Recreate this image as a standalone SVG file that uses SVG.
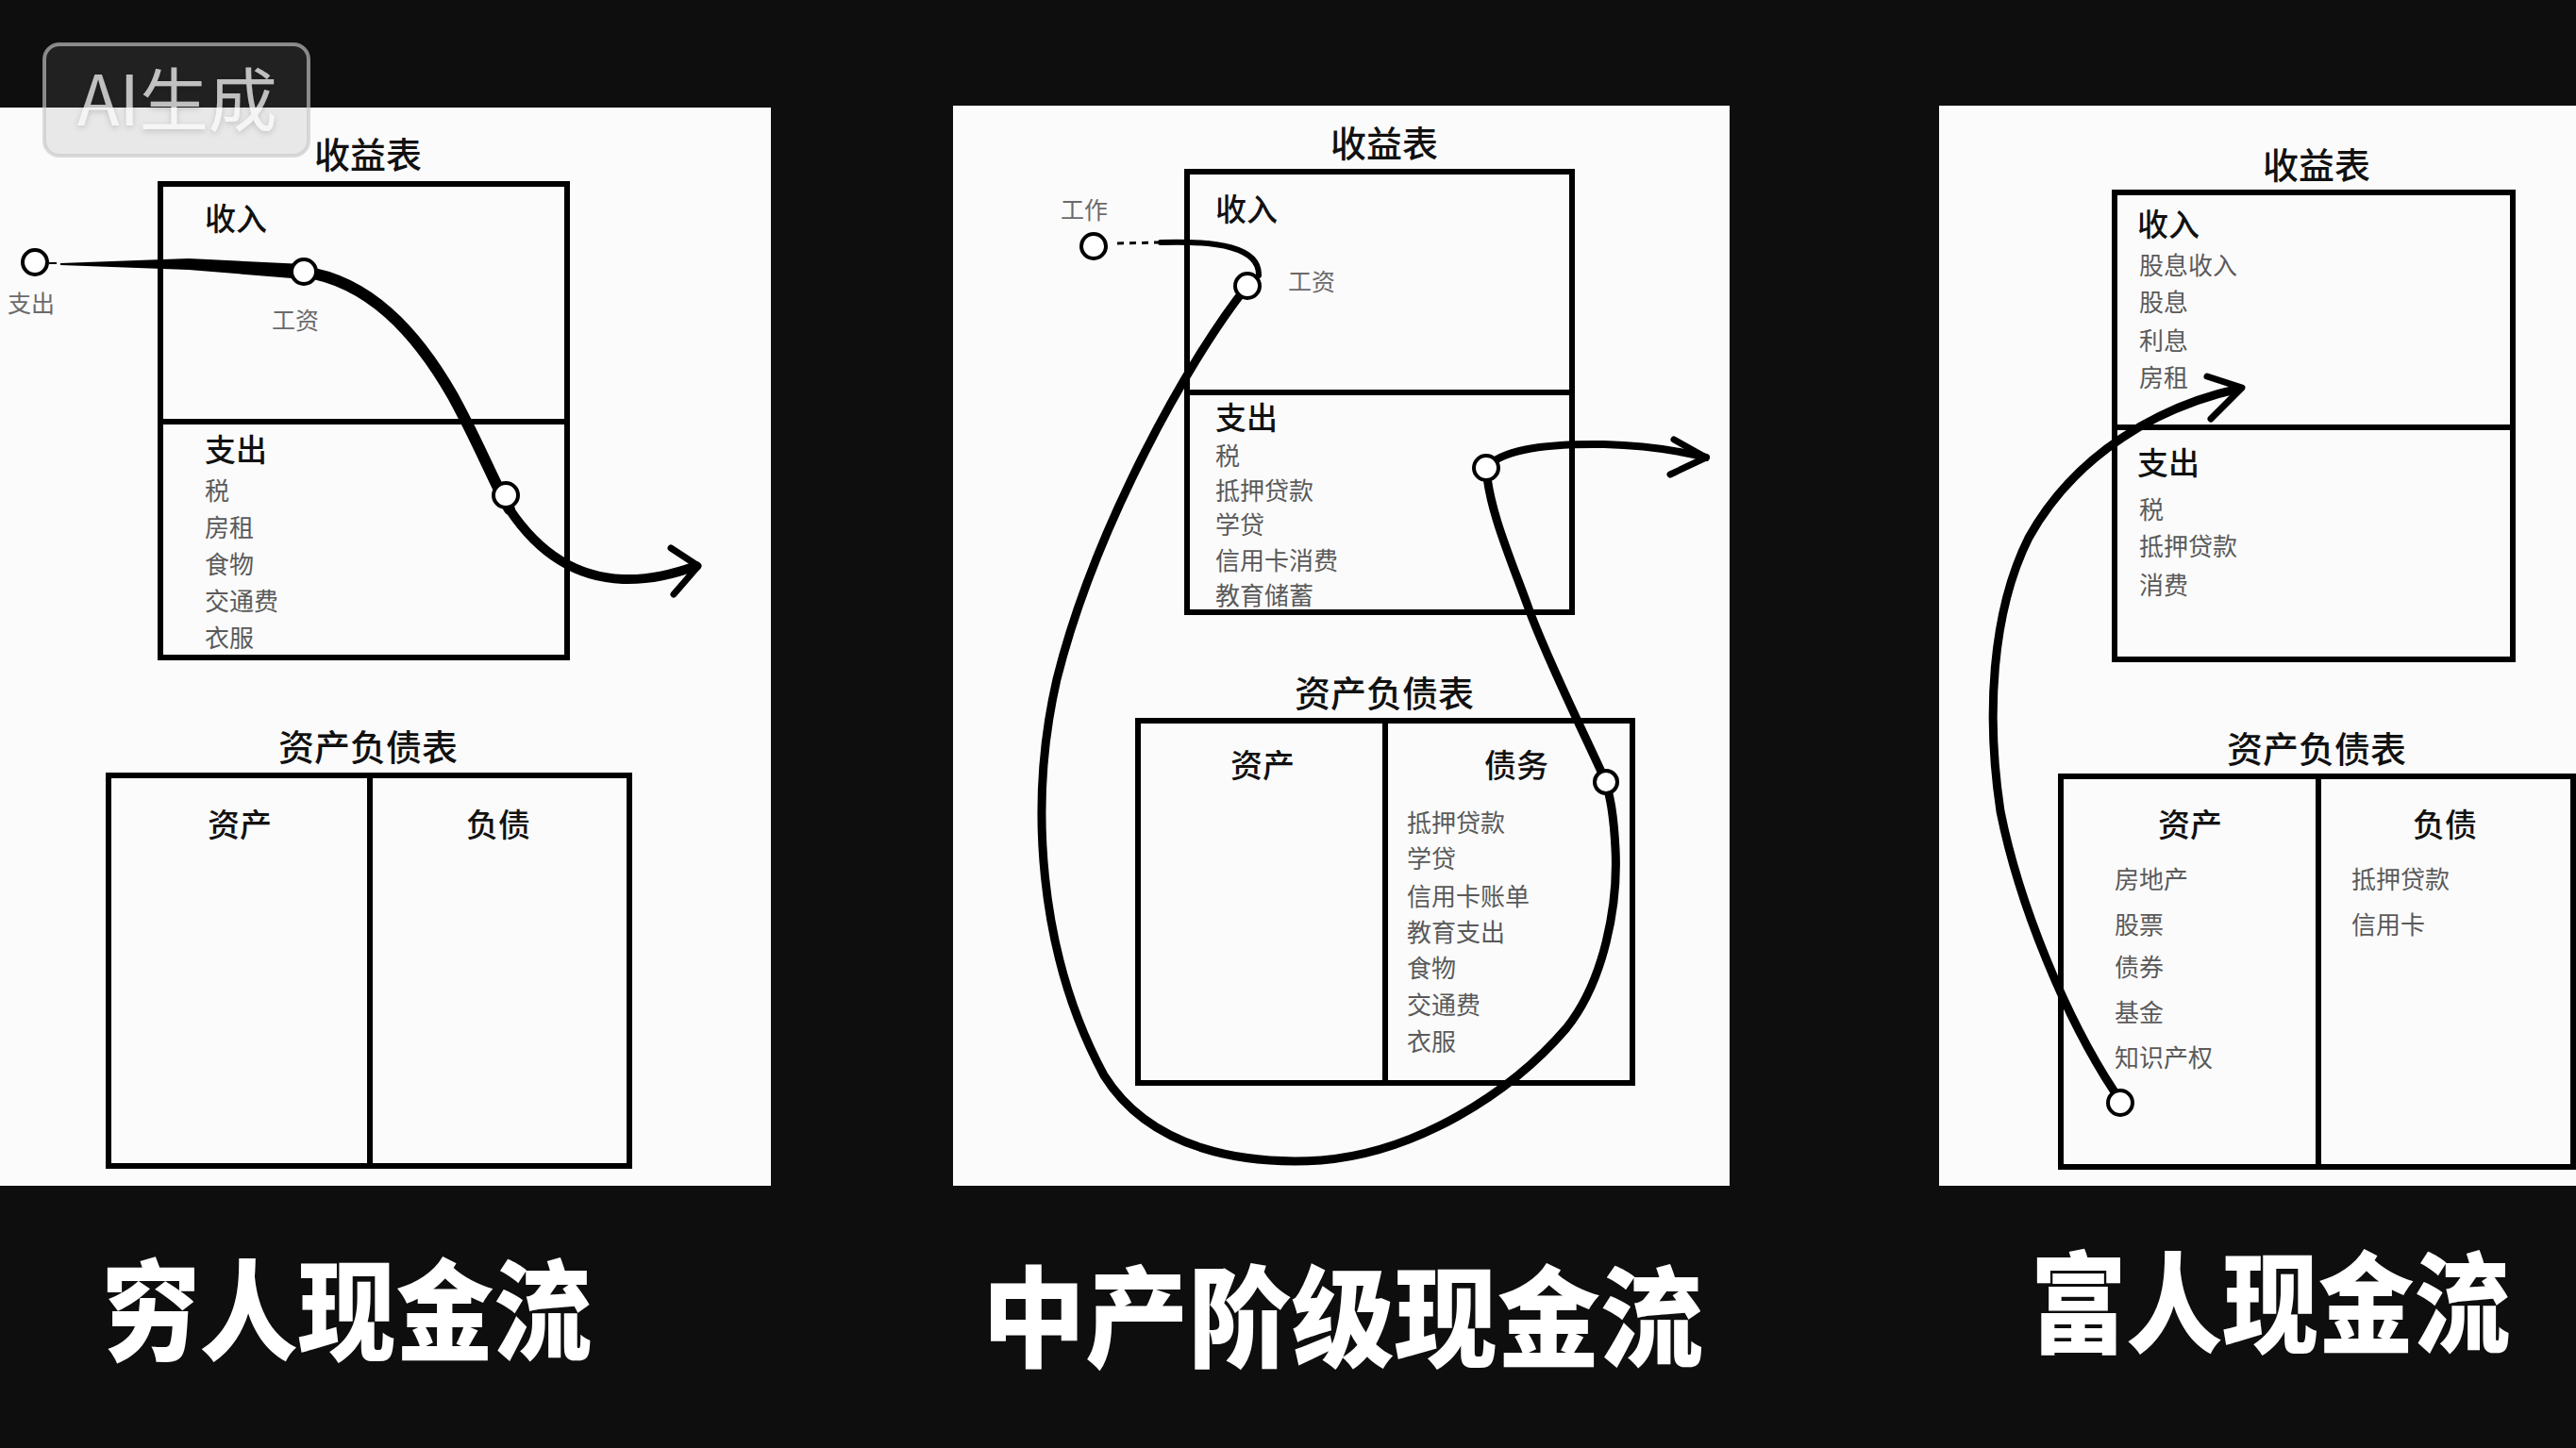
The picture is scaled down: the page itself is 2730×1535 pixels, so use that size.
<svg xmlns="http://www.w3.org/2000/svg" width="2730" height="1535" viewBox="0 0 2730 1535">
<style>
.bg{fill:#0e0e0e}
.paper{fill:#fbfbfb}
.box{fill:none;stroke:#000;stroke-width:6}
.t{font-family:"Noto Sans CJK SC","Noto Sans",sans-serif}
.h1{font-size:38px;fill:#111;font-weight:500;text-anchor:middle}
.h2{font-size:33px;fill:#111;font-weight:500}
.hc{font-size:34px;fill:#111;font-weight:500;text-anchor:middle}
.item{font-size:26px;fill:#5a5a5a}
.note{font-size:25px;fill:#6a6a6a}
.flow{fill:none;stroke:#000;stroke-width:9;stroke-linecap:round;stroke-linejoin:round}
.head{fill:none;stroke:#000;stroke-width:7;stroke-linecap:round;stroke-linejoin:round}
.dot{fill:#fff;stroke:#000;stroke-width:4}
.title{font-size:116px;font-weight:900;fill:#fff}
</style>
<defs>
  <filter id="wmShadow" x="-10%" y="-20%" width="120%" height="150%">
    <feDropShadow dx="0" dy="2" stdDeviation="3" flood-color="#000" flood-opacity="0.25"/>
  </filter>
</defs>
<rect class="bg" x="0" y="0" width="2730" height="1535"/>

<!-- Poor -->
<g id="poor">
  <rect class="paper" x="0" y="114" width="817" height="1143"/>
  <g id="poor-income">
    <text class="t h1" x="390" y="178">收益表</text>
    <rect class="box" x="170" y="195" width="431" height="502"/>
    <line class="box" x1="170" y1="447" x2="601" y2="447"/>
    <text class="t h2" x="217" y="244">收入</text>
    <text class="t h2" x="217" y="489">支出</text>
    <text class="t item" x="217" y="530">税</text>
    <text class="t item" x="217" y="569">房租</text>
    <text class="t item" x="217" y="608">食物</text>
    <text class="t item" x="217" y="647">交通费</text>
    <text class="t item" x="217" y="686">衣服</text>
    <text class="t note" x="288" y="349">工资</text>
  </g>
  <g id="poor-balance">
    <text class="t h1" x="390" y="806">资产负债表</text>
    <rect class="box" x="115" y="822" width="552" height="414"/>
    <line class="box" x1="392" y1="822" x2="392" y2="1236"/>
    <text class="t hc" x="254" y="887">资产</text>
    <text class="t hc" x="528" y="887">负债</text>
  </g>
  <text class="t note" x="8" y="331">支出</text>
  <text class="t title" x="108" y="1433" textLength="519" lengthAdjust="spacingAndGlyphs">穷人现金流</text>
</g>

<!-- Middle class -->
<g id="middle">
  <rect class="paper" x="1010" y="112" width="823" height="1145"/>
  <g id="middle-income">
    <text class="t h1" x="1467" y="166">收益表</text>
    <rect class="box" x="1258" y="182" width="408" height="467"/>
    <line class="box" x1="1258" y1="416" x2="1666" y2="416"/>
    <text class="t h2" x="1288" y="234">收入</text>
    <text class="t h2" x="1288" y="455">支出</text>
    <text class="t item" x="1288" y="493">税</text>
    <text class="t item" x="1288" y="530">抵押贷款</text>
    <text class="t item" x="1288" y="566">学贷</text>
    <text class="t item" x="1288" y="604">信用卡消费</text>
    <text class="t item" x="1288" y="641">教育储蓄</text>
    <text class="t note" x="1365" y="308">工资</text>
  </g>
  <g id="middle-balance">
    <text class="t h1" x="1467" y="749">资产负债表</text>
    <rect class="box" x="1206" y="764" width="524" height="384"/>
    <line class="box" x1="1468" y1="764" x2="1468" y2="1148"/>
    <text class="t hc" x="1338" y="824">资产</text>
    <text class="t hc" x="1607" y="824">债务</text>
    <text class="t item" x="1491" y="882">抵押贷款</text>
    <text class="t item" x="1491" y="920">学贷</text>
    <text class="t item" x="1491" y="960">信用卡账单</text>
    <text class="t item" x="1491" y="998">教育支出</text>
    <text class="t item" x="1491" y="1036">食物</text>
    <text class="t item" x="1491" y="1075">交通费</text>
    <text class="t item" x="1491" y="1114">衣服</text>
  </g>
  <text class="t note" x="1124" y="232">工作</text>
  <text class="t title" x="1041" y="1440" textLength="764" lengthAdjust="spacingAndGlyphs">中产阶级现金流</text>
</g>

<!-- Rich -->
<g id="rich">
  <rect class="paper" x="2055" y="112" width="675" height="1145"/>
  <g id="rich-income">
    <text class="t h1" x="2455" y="189">收益表</text>
    <rect class="box" x="2241" y="204" width="422" height="495"/>
    <line class="box" x1="2241" y1="453" x2="2663" y2="453"/>
    <text class="t h2" x="2265" y="250">收入</text>
    <text class="t item" x="2267" y="291">股息收入</text>
    <text class="t item" x="2267" y="330">股息</text>
    <text class="t item" x="2267" y="371">利息</text>
    <text class="t item" x="2267" y="410">房租</text>
    <text class="t h2" x="2265" y="503">支出</text>
    <text class="t item" x="2267" y="550">税</text>
    <text class="t item" x="2267" y="589">抵押贷款</text>
    <text class="t item" x="2267" y="630">消费</text>
  </g>
  <g id="rich-balance">
    <text class="t h1" x="2455" y="808">资产负债表</text>
    <rect class="box" x="2184" y="823" width="543" height="414"/>
    <line class="box" x1="2457" y1="823" x2="2457" y2="1237"/>
    <text class="t hc" x="2321" y="887">资产</text>
    <text class="t hc" x="2591" y="887">负债</text>
    <text class="t item" x="2241" y="942">房地产</text>
    <text class="t item" x="2241" y="990">股票</text>
    <text class="t item" x="2241" y="1035">债券</text>
    <text class="t item" x="2241" y="1083">基金</text>
    <text class="t item" x="2241" y="1131">知识产权</text>
    <text class="t item" x="2492" y="942">抵押贷款</text>
    <text class="t item" x="2492" y="990">信用卡</text>
  </g>
  <text class="t title" x="2152" y="1425" textLength="508" lengthAdjust="spacingAndGlyphs">富人现金流</text>
</g>

<!-- Connectors -->
<g id="connectors">
  <!-- poor -->
  <line x1="52" y1="279" x2="60" y2="279" stroke="#000" stroke-width="2"/>
  <path d="M64,279 L200,274 L322,280 L322,296 L200,286 L64,281 Z" fill="#000"/>
  <path class="flow" style="stroke-width:12" d="M322,288 C390,298 440,350 480,420 C510,475 525,515 540,540"/>
  <path class="flow" style="stroke-width:10" d="M540,540 C570,585 610,612 660,614 C690,615 715,608 738,600"/>
  <polyline class="head" points="711,581 740,600 714,630"/>
  <circle class="dot" cx="37" cy="278" r="13"/>
  <circle class="dot" cx="322" cy="288" r="13"/>
  <circle class="dot" cx="536" cy="525" r="13"/>

  <!-- middle -->
  <line x1="1184" y1="258" x2="1228" y2="257" stroke="#000" stroke-width="3" stroke-dasharray="7 6"/>
  <path class="flow" style="stroke-width:6" d="M1230,257 C1290,255 1335,262 1334,292"/>
  <path class="flow" d="M1322,303 C1260,380 1160,560 1120,720 C1090,850 1100,1010 1170,1140 C1220,1220 1320,1235 1400,1230 C1500,1222 1600,1160 1660,1090 C1700,1040 1715,960 1712,900 C1710,860 1706,845 1702,829"/>
  <path class="flow" d="M1702,829 C1680,780 1640,700 1620,645 C1600,590 1578,540 1575,496"/>
  <path class="flow" style="stroke-width:8" d="M1575,496 C1590,478 1630,470 1700,471 C1740,472 1780,478 1808,485"/>
  <polyline class="head" points="1774,466 1808,485 1770,503"/>
  <circle class="dot" cx="1159" cy="261" r="13"/>
  <circle class="dot" cx="1322" cy="303" r="13"/>
  <circle class="dot" cx="1575" cy="496" r="13"/>
  <circle class="dot" cx="1702" cy="829" r="12"/>

  <!-- rich -->
  <path class="flow" d="M2240,1156 C2190,1080 2140,960 2120,860 C2105,760 2110,650 2150,570 C2200,480 2290,430 2373,412"/>
  <polyline class="head" points="2339,399 2376,411 2343,444"/>
  <circle class="dot" cx="2247" cy="1169" r="13"/>
</g>

<!-- watermark -->
<g id="watermark">
  <rect x="47" y="47" width="280" height="118" rx="16" fill="#8a8a8a" fill-opacity="0.16" stroke="#c8c8c8" stroke-opacity="0.65" stroke-width="4"/>
  <text class="t" x="82" y="133" font-size="73" fill="#ffffff" fill-opacity="0.7" filter="url(#wmShadow)">AI生成</text>
</g>
</svg>
